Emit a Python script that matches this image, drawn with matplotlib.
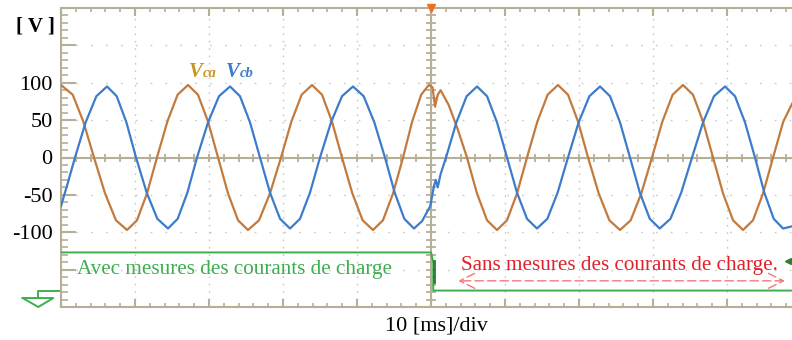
import numpy as np
import matplotlib.pyplot as plt
from matplotlib.ticker import MultipleLocator

# time in ms, voltage in V
vca_t = [0.0, 1.58, 3.02, 4.46, 5.95, 7.43, 8.92, 10.27, 11.62, 12.97, 14.37, 15.76,
         17.16, 18.51, 19.87, 21.22, 22.57, 23.92, 25.27, 26.76, 28.24, 29.73, 31.13,
         32.52, 33.92, 35.27, 36.62, 37.97, 39.37, 40.76, 42.16, 43.51, 44.87, 46.22,
         47.45, 48.67, 49.7, 50.2, 50.55, 50.9, 51.3, 52.4, 53.6, 54.86, 56.21, 57.57,
         58.92, 60.27, 61.62, 62.97, 64.37, 65.76, 67.16, 68.51, 69.87, 71.22, 72.66,
         74.10, 75.54, 76.98, 78.42, 79.86, 81.26, 82.65, 84.05, 85.40, 86.76, 88.11,
         89.46, 90.81, 92.16, 93.51, 94.87, 96.22, 97.6, 98.8]
vca_v = [97, 84, 48, 0, -48, -84, -97, -84, -48, 0, 48, 84,
         97, 84, 48, 0, -48, -84, -97, -84, -48, 0, 48,
         84, 97, 84, 48, 0, -48, -84, -97, -84, -48, 0,
         48, 84, 97, 94, 68, 84, 90, 70, 38, 0, -48, -84,
         -97, -84, -48, 0, 48, 84, 97, 84, 48, 0, -48,
         -84, -97, -84, -48, 0, 48, 84, 97, 84, 48, 0,
         -48, -84, -97, -84, -48, 0, 48, 72]

vcb_t = [0.0, 0.95, 1.89, 3.33, 4.78, 6.22, 7.53, 8.84, 10.14, 11.58, 13.02, 14.46,
         15.77, 17.08, 18.38, 19.87, 21.35, 22.84, 24.19, 25.54, 26.89, 28.24, 29.60,
         30.95, 32.30, 33.65, 35.0, 36.49, 37.97, 39.46, 40.90, 42.34, 43.78, 45.09,
         46.39, 47.70, 48.8, 49.9, 50.4, 50.65, 50.9, 51.3, 52.03, 53.43, 54.82, 56.22,
         57.57, 58.92, 60.27, 61.62, 62.97, 64.32, 65.72, 67.11, 68.51, 69.95, 71.40,
         72.84, 74.19, 75.54, 76.89, 78.22, 79.56, 80.9, 82.36, 83.81, 85.27, 86.76,
         88.24, 89.73, 91.08, 92.43, 93.78, 95.04, 96.31, 97.57, 98.8]
vcb_v = [-65, -33, 0, 47, 82, 95, 82, 47, 0, -47, -82, -95,
         -82, -47, 0, 47, 82, 95, 82, 47, 0, -47, -82,
         -95, -82, -47, 0, 47, 82, 95, 82, 47, 0, -47,
         -82, -95, -85, -65, -38, -30, -40, -22, 0, 47, 82, 95,
         82, 47, 0, -47, -82, -95, -82, -47, 0, 47, 82,
         95, 82, 47, 0, -47, -82, -95, -82, -47, 0, 47,
         82, 95, 82, 47, 0, -47, -82, -95, -92]

# green channel (measurement on/off), ground symbol
grn_t = [0.0, 50.0, 50.3, 50.3, 98.8]
grn_v = [-127, -127, -140, -178, -178]
gnd_stem_t = [0.0, -3.07, -3.07]
gnd_stem_v = [-179, -179, -188]
gnd_tri_t = [-5.18, -1.04, -3.07, -5.18]
gnd_tri_v = [-188, -188, -200, -188]

ytick_vals = [-150, -100, -50, 0, 50, 100, 150]
ytick_labels = ['', '-100', '-50', '0', '50', '100', '']

brown = '#C27B3E'
blue = '#3D7CCB'
green = '#3DAE4F'
tan = '#B5AF98'
serif = 'Liberation Serif'

fig = plt.figure(figsize=(7.92, 3.40), dpi=100)
ax = fig.add_axes([61 / 792, 33 / 340, 731 / 792, 299 / 340])
ax.set_xlim(0, 98.78)
ax.set_ylim(-200, 200)

# dotted scope grid
ax.set_xticks(np.arange(0, 99, 10))
ax.set_yticks(ytick_vals, ytick_labels)
ax.xaxis.set_minor_locator(MultipleLocator(2))
ax.yaxis.set_minor_locator(MultipleLocator(10))
ax.xaxis.grid(True, color='#C8C8C8', lw=1, linestyle=(0, (1.2, 4.1)))
ax.yaxis.grid(True, color='#C8C8C8', lw=1, linestyle=(0, (1.2, 9.5)))
ax.set_axisbelow(True)

for s in ['left', 'top', 'bottom']:
    ax.spines[s].set_color(tan)
    ax.spines[s].set_linewidth(1.5)
ax.spines['right'].set_visible(False)

ax.tick_params(axis='both', which='both', direction='in', colors=tan,
               top=True, right=False, labelbottom=False)
ax.tick_params(axis='x', which='major', length=6, width=1.5)
ax.tick_params(axis='x', which='minor', length=3, width=1.2)
ax.tick_params(axis='y', which='major', length=11, width=1.5, pad=6)
ax.tick_params(axis='y', which='minor', length=5, width=1.2)
for lab in ax.get_yticklabels():
    lab.set_color('black')
    lab.set_fontfamily(serif)
    lab.set_fontsize(16)

# centre cross with its own ticks
ax.axhline(0, color=tan, lw=1.5, zorder=1)
ax.axvline(50, color=tan, lw=1.5, zorder=1)
xm = np.arange(2, 99, 2)
ax.plot(xm, np.zeros_like(xm), ls='none', marker='|', ms=6, mew=1.3, color=tan, zorder=1)
ym = np.arange(-190, 200, 10)
ax.plot(np.full_like(ym, 50.0), ym, ls='none', marker='_', ms=7, mew=1.3, color=tan, zorder=1)

ax.plot(vca_t, vca_v, color=brown, lw=1.6, zorder=3)
ax.plot(vcb_t, vcb_v, color=blue, lw=1.6, zorder=3)

ax.plot(grn_t, grn_v, color=green, lw=1.4, zorder=3)
ax.plot([50.35, 50.35], [-138, -166], color='#2E7D32', lw=2, zorder=4)
ax.plot(gnd_stem_t, gnd_stem_v, color=green, lw=1.4, clip_on=False)
ax.plot(gnd_tri_t, gnd_tri_v, color=green, lw=1.4, clip_on=False)
ax.plot([98.2], [-139], marker='<', ms=4, color='#2E7D32', clip_on=False)
ax.plot([50], [200], marker='v', ms=6, color='#F07020', clip_on=False, zorder=5)

ax.text(2.2, -150, 'Avec mesures des courants de charge', color=green,
        family=serif, fontsize=15.2, va='center', ha='left')
ax.text(54.1, -145, 'Sans mesures des courants de charge.', color='#E0202A',
        family=serif, fontsize=15.2, va='center', ha='left')
ax.annotate('', xy=(53.3, -165), xytext=(98.2, -165),
            arrowprops=dict(arrowstyle='<->,head_length=0.6,head_width=0.3',
                            color='#F07878', lw=1, ls=(0, (6, 3)),
                            mutation_scale=18))

ax.text(17.2, 108, 'V', color='#C8951E', family=serif, fontsize=15,
        style='italic', weight='bold')
ax.text(19.2, 108, 'ca', color='#C8951E', family=serif, fontsize=10.5,
        style='italic', weight='bold')
ax.text(22.2, 108, 'V', color=blue, family=serif, fontsize=15,
        style='italic', weight='bold')
ax.text(24.2, 108, 'cb', color=blue, family=serif, fontsize=10.5,
        style='italic', weight='bold')

fig.text(35 / 792, 1 - 27 / 340, '[ V ]', family=serif, fontsize=15,
         weight='bold', ha='center', va='center')
fig.text(436 / 792, 1 - 326 / 340, '10 [ms]/div', family=serif, fontsize=16,
         ha='center', va='center')

fig.savefig('out.png', dpi=100)
